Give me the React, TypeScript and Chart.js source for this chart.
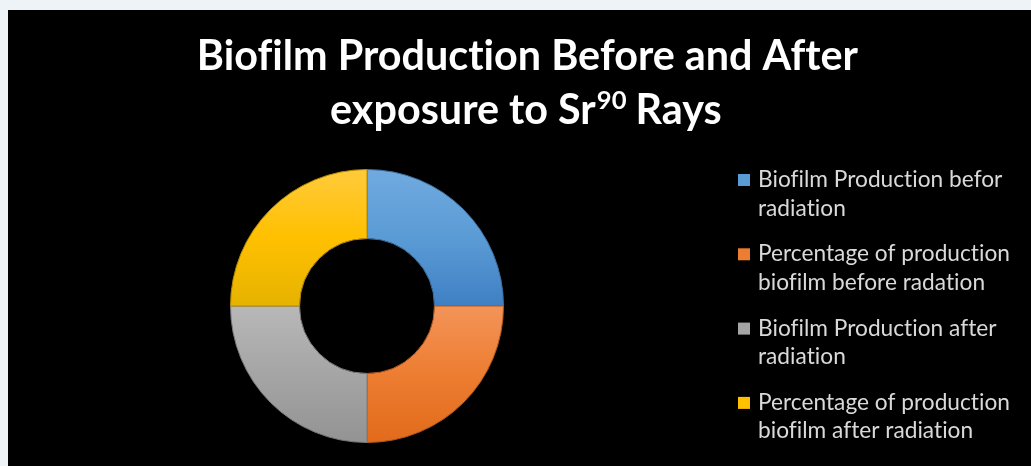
import React, { useEffect, useRef } from "react";
import { Chart, registerables } from "chart.js";

Chart.register(...registerables);

// ---- data ----
const categories: string[][] = [
  ["Biofilm Production befor", "radiation"],
  ["Percentage of production", "biofilm before radation"],
  ["Biofilm Production after", "radiation"],
  ["Percentage of production", "biofilm after radiation"],
];
const values: number[] = [100, 100, 100, 100];

const titleLine1 = "Biofilm Production Before and After";
const titleLine2Before = "exposure to Sr";
const titleLine2Sup = "90";
const titleLine2After = " Rays";

// ---- styles ----
const baseColors = ["#5b9bd5", "#ed7d31", "#a5a5a5", "#ffc000"];
const lightColors = ["#70aae0", "#f39459", "#b8b8b8", "#ffcb3c"];
const darkColors = ["#3f80c4", "#e26a1b", "#939393", "#e6b300"];
const edgeColors = ["#3d6f9e", "#b25a20", "#7a7a7a", "#b48a00"];

const noLigatures = (ctx: any) => {
  try {
    ctx.letterSpacing = "0.01px";
  } catch (e) {}
};

const titlePlugin = {
  id: "customTitle",
  afterDraw(chart: any) {
    const ctx = chart.ctx as CanvasRenderingContext2D;
    ctx.save();
    noLigatures(ctx);
    ctx.fillStyle = "#ffffff";
    ctx.textBaseline = "alphabetic";
    ctx.textAlign = "left";
    const family = "Lato, 'Open Sans', sans-serif";
    ctx.font = `bold 100px ${family}`;
    const w100 = ctx.measureText(titleLine1).width;
    const size = (100 * 661) / w100;
    const font = `bold ${size}px ${family}`;
    const supSize = size * 0.62;
    const supFont = `bold ${supSize}px ${family}`;
    ctx.font = font;
    const w1 = ctx.measureText(titleLine1).width;
    ctx.fillText(titleLine1, 519.4 - w1 / 2, 60);
    const wa = ctx.measureText(titleLine2Before).width;
    const wc = ctx.measureText(titleLine2After).width;
    ctx.font = supFont;
    const wb = ctx.measureText(titleLine2Sup).width;
    const total = wa + wb + wc;
    let x = 517.9 - total / 2;
    const base2 = 113.5;
    ctx.font = font;
    ctx.fillText(titleLine2Before, x, base2);
    x += wa;
    ctx.font = supFont;
    ctx.fillText(titleLine2Sup, x + 1, base2 - size * 0.36);
    x += wb;
    ctx.font = font;
    ctx.fillText(titleLine2After, x, base2);
    ctx.restore();
  },
};

const legendPlugin = {
  id: "customLegend",
  afterDraw(chart: any) {
    const ctx = chart.ctx as CanvasRenderingContext2D;
    const labels = chart.data.labels as string[][];
    ctx.save();
    noLigatures(ctx);
    const family = "Lato, 'Open Sans', sans-serif";
    ctx.font = `100px ${family}`;
    const w100 = ctx.measureText("Percentage of production").width;
    const size = (100 * 252) / w100;
    ctx.font = `${size}px ${family}`;
    ctx.textBaseline = "alphabetic";
    ctx.textAlign = "left";
    const firstBase = 177;
    const itemGap = 74.3;
    const lineGap = 28.5;
    labels.forEach((lines, i) => {
      const b = firstBase + i * itemGap;
      ctx.fillStyle = baseColors[i];
      ctx.fillRect(730, b - 13, 12, 12);
      ctx.fillStyle = "#d9d9d9";
      lines.forEach((ln, j) => {
        ctx.fillText(ln, 750, b + j * lineGap);
      });
    });
    ctx.restore();
  },
};

export default function App() {
  const ref = useRef<HTMLCanvasElement | null>(null);

  useEffect(() => {
    document.body.style.margin = "0";
    document.body.style.background = "#eef3f8";
    if (!ref.current) return;
    const chart = new Chart(ref.current, {
      type: "doughnut",
      data: {
        labels: categories,
        datasets: [
          {
            data: values,
            backgroundColor: (c: any) => {
              const i = c.dataIndex;
              const area = c.chart.chartArea;
              if (!area) return baseColors[i];
              const cy = (area.top + area.bottom) / 2;
              const r = (area.bottom - area.top) / 2;
              const top = i === 0 || i === 3;
              const y0 = top ? cy - r : cy;
              const y1 = top ? cy : cy + r;
              const g = c.chart.ctx.createLinearGradient(0, y0, 0, y1);
              g.addColorStop(0, lightColors[i]);
              g.addColorStop(0.5, baseColors[i]);
              g.addColorStop(1, darkColors[i]);
              return g;
            },
            borderColor: edgeColors,
            borderWidth: 1,
          },
        ],
      },
      options: {
        responsive: false,
        maintainAspectRatio: false,
        animation: false,
        events: [],
        cutout: "49.4%",
        layout: { padding: { left: 222, top: 159, right: 527, bottom: 23 } },
        plugins: {
          legend: { display: false },
          title: { display: false },
          tooltip: { enabled: false },
        },
      },
      plugins: [titlePlugin, legendPlugin],
    });
    return () => chart.destroy();
  }, []);

  return (
    <div
      style={{
        position: "absolute",
        left: 8,
        top: 10,
        width: 1023,
        height: 456,
        background: "#000000",
      }}
    >
      <canvas ref={ref} width={1023} height={456} style={{ display: "block" }} />
    </div>
  );
}
